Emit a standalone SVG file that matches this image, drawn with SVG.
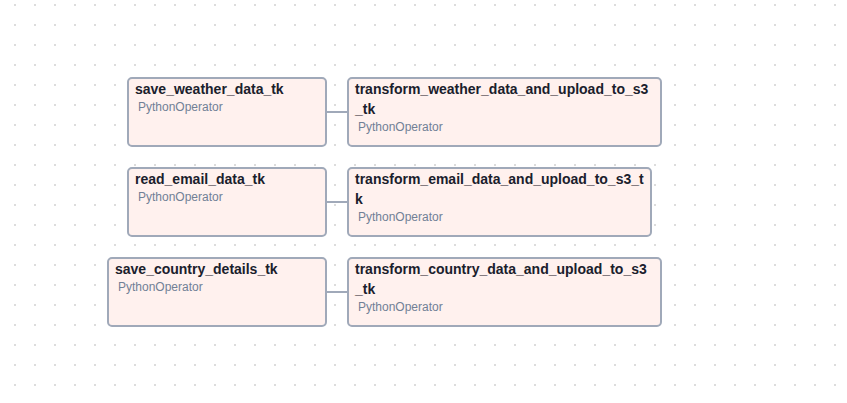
<svg xmlns="http://www.w3.org/2000/svg" width="847" height="403" viewBox="0 0 847 403">
<defs>
<pattern id="dots" x="14" y="4" width="20" height="20" patternUnits="userSpaceOnUse">
<rect x="0" y="0" width="2" height="2" fill="#dcdcdc"/>
</pattern>
</defs>
<style>
.box{fill:#fff1ee;stroke:#a0a9b9;stroke-width:2}
.t{font-family:"Liberation Sans",Arial,sans-serif;font-weight:bold;font-size:14px;fill:#1a202c}
.s{font-family:"Liberation Sans",Arial,sans-serif;font-size:12px;fill:#718096}
.e{stroke:#a0a9b9;stroke-width:2;fill:none}
</style>
<rect width="847" height="403" fill="#ffffff"/>
<rect width="847" height="403" fill="url(#dots)"/>
<g id="connectors">
<line class="e" x1="326" y1="112" x2="348" y2="112"/>
<line class="e" x1="326" y1="202" x2="348" y2="202"/>
<line class="e" x1="326" y1="292" x2="348" y2="292"/>
</g>
<g id="save_weather_data_tk">
<rect class="box" x="128" y="78" width="198" height="68" rx="4"/>
<text class="t" x="135" y="94">save_weather_data_tk</text>
<text class="s" x="138" y="111">PythonOperator</text>
</g>
<g id="transform_weather_data_and_upload_to_s3_tk">
<rect class="box" x="348" y="78" width="313" height="68" rx="4"/>
<text class="t" x="355" y="94">transform_weather_data_and_upload_to_s3</text>
<text class="t" x="355" y="114">_tk</text>
<text class="s" x="358" y="131">PythonOperator</text>
</g>
<g id="read_email_data_tk">
<rect class="box" x="128" y="168" width="198" height="68" rx="4"/>
<text class="t" x="135" y="184">read_email_data_tk</text>
<text class="s" x="138" y="201">PythonOperator</text>
</g>
<g id="transform_email_data_and_upload_to_s3_tk">
<rect class="box" x="348" y="168" width="303" height="68" rx="4"/>
<text class="t" x="355" y="184">transform_email_data_and_upload_to_s3_t</text>
<text class="t" x="355" y="204">k</text>
<text class="s" x="358" y="221">PythonOperator</text>
</g>
<g id="save_country_details_tk">
<rect class="box" x="108" y="258" width="218" height="68" rx="4"/>
<text class="t" x="115" y="274">save_country_details_tk</text>
<text class="s" x="118" y="291">PythonOperator</text>
</g>
<g id="transform_country_data_and_upload_to_s3_tk">
<rect class="box" x="348" y="258" width="313" height="68" rx="4"/>
<text class="t" x="355" y="274">transform_country_data_and_upload_to_s3</text>
<text class="t" x="355" y="294">_tk</text>
<text class="s" x="358" y="311">PythonOperator</text>
</g>
</svg>
